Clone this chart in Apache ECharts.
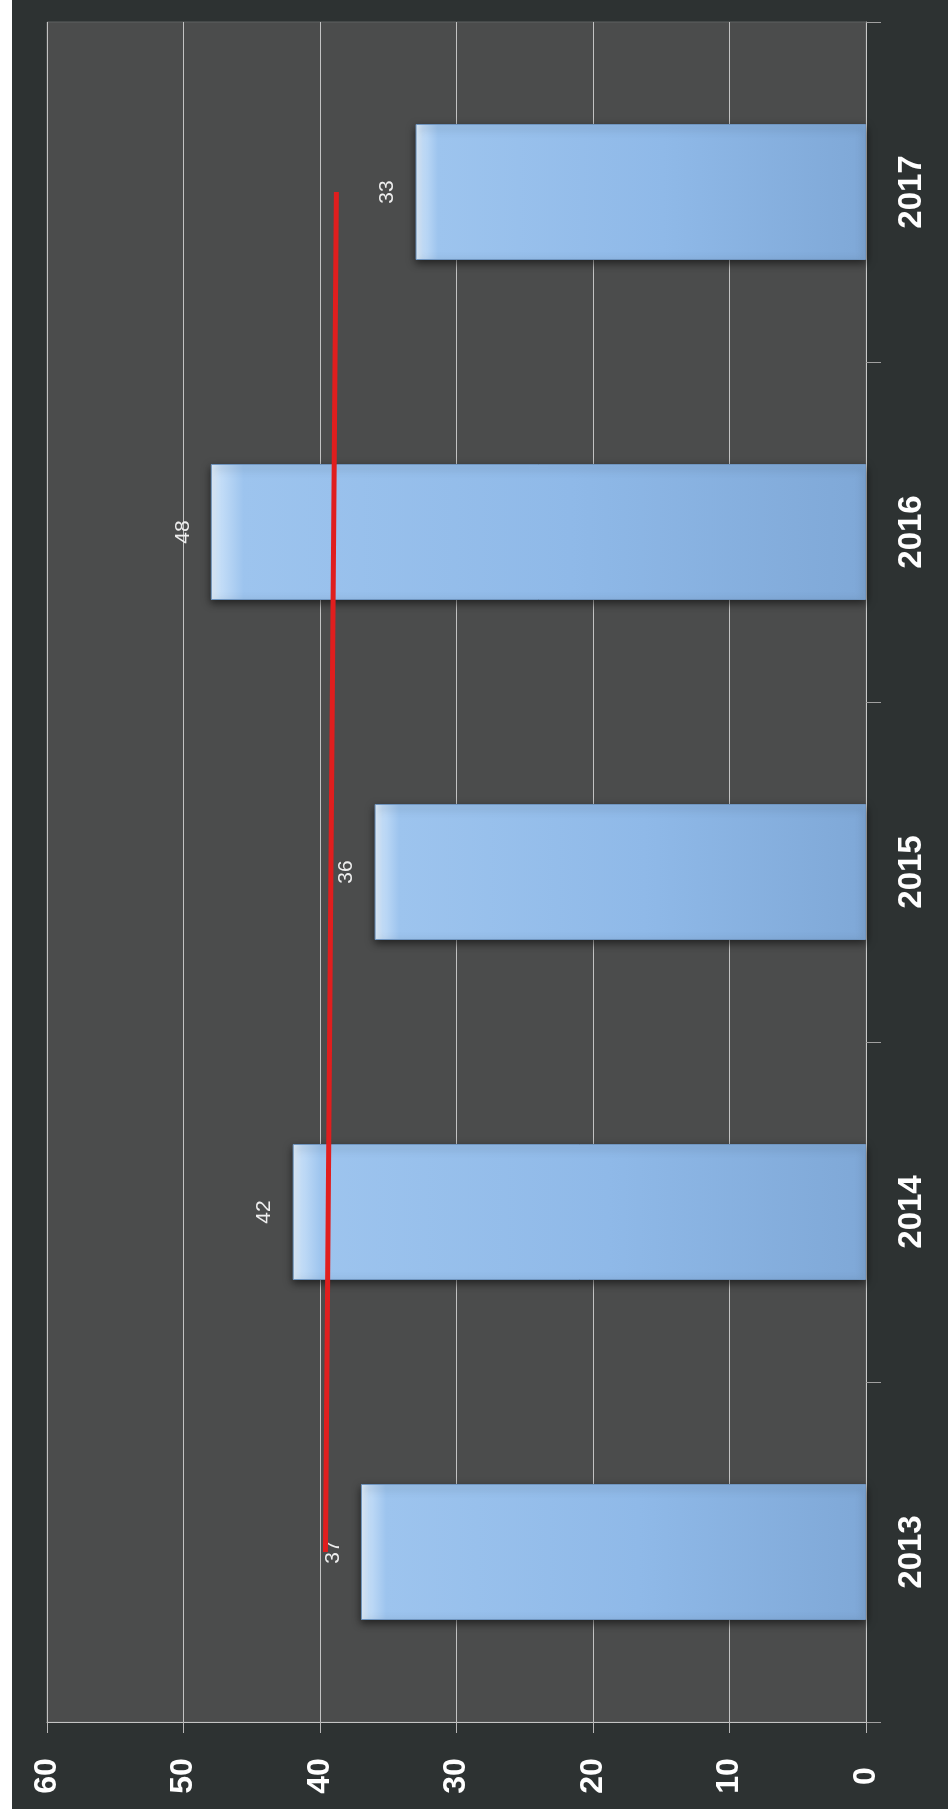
<!DOCTYPE html>
<html>
<head>
<meta charset="utf-8">
<script src="https://cdn.jsdelivr.net/npm/echarts@6/dist/echarts.min.js"></script>
<style>
  html, body { margin: 0; padding: 0; background: #ffffff; width: 952px; height: 1819px; overflow: hidden; }
  #wrap { position: absolute; left: 12px; top: 0; width: 936px; height: 1809px; background: #2d3232; }
  #chart { width: 936px; height: 1809px; }
</style>
</head>
<body>
<div id="wrap"><div id="chart"></div></div>
<script>
// Data read from the (rotated) reference picture
const years = ['2013', '2014', '2015', '2016', '2017'];
const values = [37, 42, 36, 48, 33];
const trendValues = [39.6, 39.4, 39.2, 39.0, 38.8];
const valueTicks = [0, 10, 20, 30, 40, 50, 60];

const chart = echarts.init(document.getElementById('chart'), null, { renderer: 'canvas' });

const barGradient = new echarts.graphic.LinearGradient(0, 0, 1, 0, [
  { offset: 0, color: '#e6f3ff' },
  { offset: 0.016, color: '#c2dcf7' },
  { offset: 0.05, color: '#9dc4ee' },
  { offset: 0.55, color: '#8fb9e8' },
  { offset: 1, color: '#7fa8d7' }
]);

const option = {
  animation: false,
  backgroundColor: 'transparent',
  grid: {
    left: 35, right: 82, top: 22, bottom: 87,
    show: true,
    backgroundColor: '#4b4c4c',
    borderColor: '#5e6060',
    borderWidth: 1
  },
  xAxis: {
    type: 'value',
    inverse: true,
    position: 'bottom',
    min: valueTicks[0],
    max: valueTicks[valueTicks.length - 1],
    interval: 10,
    axisLine: { show: true, lineStyle: { color: '#c4c4c4', width: 1 } },
    axisTick: { show: true, length: 11, lineStyle: { color: '#b8b8b8' } },
    splitLine: { show: true, lineStyle: { color: '#c2c2c2', width: 1 } },
    axisLabel: {
      rotate: 90,
      margin: 54,
      align: 'center',
      verticalAlign: 'middle',
      color: '#ffffff',
      fontFamily: 'Liberation Sans, Arial, sans-serif',
      fontWeight: 'bold',
      fontSize: 32
    }
  },
  yAxis: {
    type: 'category',
    position: 'right',
    data: years,
    axisLine: { show: true, lineStyle: { color: '#c8c8c8', width: 1 } },
    axisTick: { show: true, length: 15, lineStyle: { color: '#a0a0a0' } },
    splitLine: { show: false },
    axisLabel: {
      rotate: 90,
      margin: 46,
      align: 'center',
      verticalAlign: 'middle',
      color: '#ffffff',
      fontFamily: 'Liberation Sans, Arial, sans-serif',
      fontWeight: 'bold',
      fontSize: 33
    }
  },
  series: [
    {
      type: 'bar',
      data: values,
      barWidth: '40%',
      itemStyle: {
        color: barGradient,
        borderColor: '#6f95c0',
        borderWidth: 1,
        shadowColor: 'rgba(0,0,0,0.55)',
        shadowBlur: 8,
        shadowOffsetY: 3
      },
      label: {
        show: true,
        position: 'left',
        distance: 28,
        rotate: 90,
        align: 'center',
        verticalAlign: 'middle',
        color: '#eeeeee',
        fontFamily: 'Liberation Sans, Arial, sans-serif',
        fontSize: 21
      },
      z: 2
    },
    {
      type: 'line',
      data: years.map((y, i) => [trendValues[i], y]),
      showSymbol: false,
      symbol: 'none',
      lineStyle: { color: '#e01e1e', width: 5 },
      z: 3
    }
  ]
};

chart.setOption(option);
</script>
</body>
</html>
